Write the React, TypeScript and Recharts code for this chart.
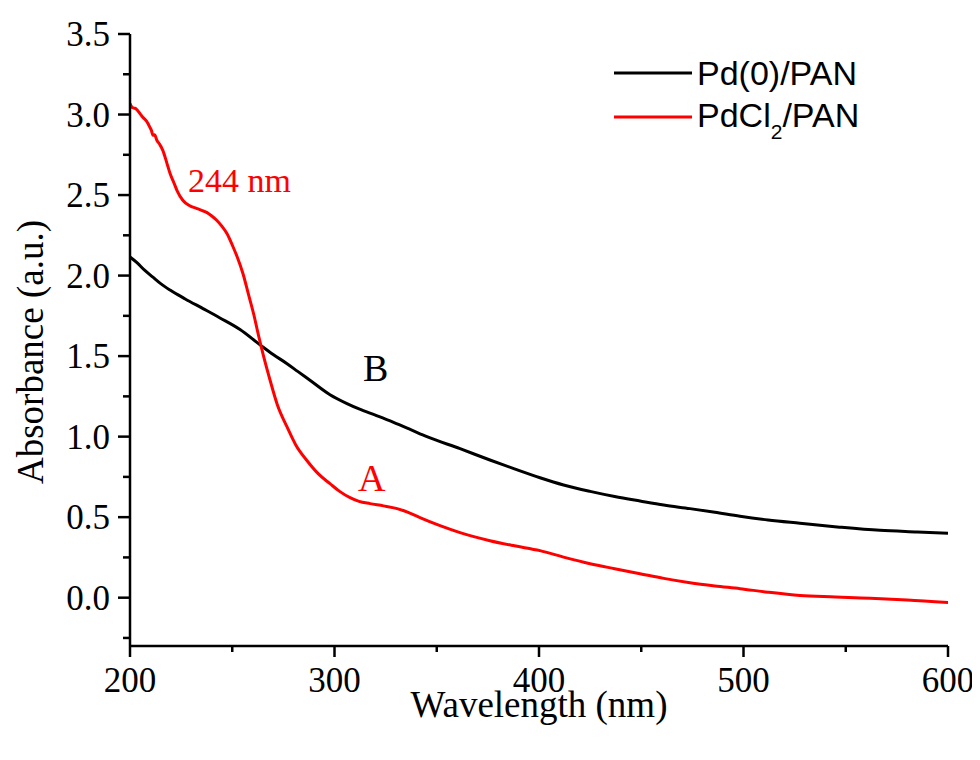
import React from 'react';
import { LineChart, Line, XAxis, YAxis, ReferenceDot, Label, Legend } from 'recharts';

// PdCl2/PAN (curve A) – wavelength (nm), absorbance
const pdcl2Wavelength = [
  200, 201, 202, 203, 204.9, 206.4, 208, 209.8, 210.5, 211.2, 212, 213.2, 214.5, 216.1, 218, 219.6,
  221.5, 223, 225.9, 229, 232.8, 235, 237.7, 240, 242.5, 245, 247.4, 250, 252.3, 255.3, 258, 260.5,
  263, 265.5, 268.5, 272, 276.8, 281, 286.6, 292, 297.8, 302.5, 307.6, 312, 317.4, 324, 330.6, 336,
  341.8, 351.6, 361.4, 376, 388, 400.5, 412, 425, 437, 449.4, 461, 473.8, 486, 498.3, 512, 527.6,
  545, 562, 580, 600,
];
const pdcl2Absorbance = [
  3.068, 3.045, 3.04, 3.035, 3.006, 2.981, 2.96, 2.919, 2.9, 2.872, 2.874, 2.839, 2.815, 2.776, 2.7, 2.634,
  2.575, 2.528, 2.466, 2.435, 2.416, 2.405, 2.391, 2.37, 2.342, 2.305, 2.261, 2.19, 2.12, 2.01, 1.88, 1.76,
  1.62, 1.49, 1.35, 1.2, 1.06, 0.95, 0.85, 0.77, 0.708, 0.66, 0.621, 0.598, 0.584, 0.57, 0.553, 0.53,
  0.497, 0.447, 0.404, 0.354, 0.322, 0.292, 0.252, 0.211, 0.18, 0.149, 0.12, 0.093, 0.073, 0.056, 0.034, 0.014,
  0.005, -0.004, -0.014, -0.03,
];

// Pd(0)/PAN (curve B)
const pd0Wavelength = [
  200, 203.4, 207, 211.2, 215, 219.6, 227, 235.7, 244, 253.8, 263.6, 270, 276.8, 282, 288, 297.8,
  306.1, 312, 320, 328.6, 337, 345.2, 361.4, 376, 388, 400.5, 412, 425, 437, 449.4, 461, 473.8,
  486, 498.3, 512, 527.6, 547, 566.7, 585, 600,
];
const pd0Absorbance = [
  2.115, 2.08, 2.035, 1.99, 1.95, 1.91, 1.855, 1.795, 1.737, 1.665, 1.57, 1.51, 1.453, 1.405, 1.35, 1.26,
  1.205, 1.172, 1.133, 1.09, 1.045, 1.0, 0.925, 0.855, 0.8, 0.745, 0.7, 0.66, 0.628, 0.6, 0.575, 0.553,
  0.53, 0.505, 0.482, 0.462, 0.438, 0.418, 0.408, 0.4,
];

const seriesNames = ['Pd(0)/PAN', 'PdCl2/PAN'];
const seriesColors = ['#000000', '#ff0000'];

const xTicks = [200, 250, 300, 350, 400, 450, 500, 550, 600];
const yTicks = [-0.25, 0, 0.25, 0.5, 0.75, 1, 1.25, 1.5, 1.75, 2, 2.25, 2.5, 2.75, 3, 3.25, 3.5];
const frameTicks = [0, 1, 2, 3, 4, 5, 6, 7, 8, 9, 10];

const annotations = [
  { text: '244 nm', x: 228.4, y: 2.516, series: 1 },
  { text: 'B', x: 313.9, y: 1.348, series: 0 },
  { text: 'A', x: 311.5, y: 0.665, series: 1 },
];

const pd0Data = pd0Wavelength.map((x, i) => ({ x, y: pd0Absorbance[i] }));
const pdcl2Data = pdcl2Wavelength.map((x, i) => ({ x, y: pdcl2Absorbance[i] }));

const SERIF = '"Liberation Serif", "Times New Roman", serif';
const SANS = '"Liberation Sans", Arial, sans-serif';

const XTick = (props: any) => {
  const { x, y, payload } = props;
  const major = payload.value % 100 === 0;
  return (
    <g>
      <line x1={x} x2={x} y1={y} y2={y + (major ? 11 : 6)} stroke="#000" strokeWidth={2.5} />
      {major && (
        <text x={x} y={y + 46} textAnchor="middle" fontFamily={SERIF} fontSize={35} fill="#000">
          {payload.value}
        </text>
      )}
    </g>
  );
};

const YTick = (props: any) => {
  const { x, y, payload } = props;
  const v = payload.value;
  const major = Math.abs(Math.round(v * 2) - v * 2) < 1e-6;
  return (
    <g>
      <line x1={x} x2={x - (major ? 12 : 7)} y1={y} y2={y} stroke="#000" strokeWidth={2.5} />
      {major && (
        <text x={x - 20} y={y + 12} textAnchor="end" fontFamily={SERIF} fontSize={35} fill="#000">
          {v.toFixed(1)}
        </text>
      )}
    </g>
  );
};

const TopTick = (props: any) => (
  <line x1={props.x} x2={props.x} y1={props.y} y2={props.y + 3} stroke="#000" strokeWidth={2} />
);
const RightTick = (props: any) => (
  <line x1={props.x} x2={props.x - 3} y1={props.y} y2={props.y} stroke="#000" strokeWidth={2} />
);

const renderName = (name: string) => {
  const m = name.match(/^(.*Cl)(\d)(.*)$/);
  if (!m) return name;
  return (
    <>
      {m[1]}
      <span style={{ fontSize: 21, position: 'relative', top: 12 }}>{m[2]}</span>
      {m[3]}
    </>
  );
};

const LegendBox = () => (
  <div style={{ fontFamily: SANS, fontSize: 34, color: '#000' }}>
    {seriesNames.map((name, i) => (
      <div key={name} style={{ display: 'flex', alignItems: 'center', height: 44, whiteSpace: 'nowrap' }}>
        <svg width={78} height={44} style={{ flex: 'none' }}>
          <line x1={0} x2={78} y1={22} y2={22} stroke={seriesColors[i]} strokeWidth={3} />
        </svg>
        <span style={{ marginLeft: 5, lineHeight: '44px' }}>{renderName(name)}</span>
      </div>
    ))}
  </div>
);

const annText = (text: string, color: string, size: number) => (props: any) => {
  const vb = props.viewBox || {};
  const cx = (vb.x ?? 0) + (vb.width ?? 0) / 2;
  const cy = (vb.y ?? 0) + (vb.height ?? 0) / 2;
  return (
    <text x={cx} y={cy} fontFamily={SERIF} fontSize={size} fill={color} textAnchor="start">
      {text}
    </text>
  );
};

export default function App() {
  return (
    <div style={{ width: 972, height: 744, position: 'relative', background: '#fff' }}>
      <LineChart width={972} height={744} margin={{ top: 26, right: 32, bottom: 0, left: 0 }}>
        <XAxis
          dataKey="x"
          type="number"
          domain={[200, 600]}
          ticks={xTicks}
          height={106}
          tickSize={0}
          tickMargin={0}
          tickLine={false}
          axisLine={{ stroke: '#000', strokeWidth: 2.5 }}
          tick={(p: any) => <XTick {...p} />}
          interval={0}
          allowDataOverflow
        >
          <Label
            value="Wavelength (nm)"
            content={(p: any) => (
              <text
                x={(p.viewBox?.x ?? 0) + (p.viewBox?.width ?? 0) / 2}
                y={(p.viewBox?.y ?? 0) + 71}
                textAnchor="middle"
                fontFamily={SERIF}
                fontSize={37}
                fill="#000"
              >
                Wavelength (nm)
              </text>
            )}
          />
        </XAxis>
        <XAxis
          xAxisId="t"
          orientation="top"
          type="number"
          domain={[0, 10]}
          ticks={frameTicks}
          height={0}
          tickSize={0}
          tickMargin={0}
          tickLine={false}
          axisLine={{ stroke: '#000', strokeWidth: 2.5 }}
          tick={(p: any) => <TopTick {...p} />}
          interval={0}
        />
        <YAxis
          type="number"
          domain={[-0.3, 3.5]}
          ticks={yTicks}
          width={122}
          tickSize={0}
          tickMargin={0}
          tickLine={false}
          axisLine={{ stroke: '#000', strokeWidth: 2.5 }}
          tick={(p: any) => <YTick {...p} />}
          interval={0}
          allowDataOverflow
        >
          <Label
            value="Absorbance (a.u.)"
            content={(p: any) => {
              const cy = (p.viewBox?.y ?? 0) + (p.viewBox?.height ?? 0) / 2 + 12;
              return (
                <text
                  x={35}
                  y={cy}
                  transform={`rotate(-90 35 ${cy})`}
                  textAnchor="middle"
                  fontFamily={SERIF}
                  fontSize={37}
                  fill="#000"
                >
                  Absorbance (a.u.)
                </text>
              );
            }}
          />
        </YAxis>
        <YAxis
          yAxisId="r"
          orientation="right"
          type="number"
          domain={[0, 10]}
          ticks={frameTicks}
          width={0}
          tickSize={0}
          tickMargin={0}
          tickLine={false}
          axisLine={{ stroke: '#000', strokeWidth: 2.5 }}
          tick={(p: any) => <RightTick {...p} />}
          interval={0}
        />
        <Legend
          verticalAlign="middle"
          align="center"
          layout="horizontal"
          content={() => <LegendBox />}
          wrapperStyle={{ position: 'absolute', left: 606, top: 43, width: 320, height: 90 }}
        />
        <Line
          data={pd0Data}
          dataKey="y"
          name={seriesNames[0]}
          type="monotone"
          stroke={seriesColors[0]}
          strokeWidth={3}
          dot={false}
          activeDot={false}
          isAnimationActive={false}
        />
        <Line
          data={pdcl2Data}
          dataKey="y"
          name={seriesNames[1]}
          type="monotone"
          stroke={seriesColors[1]}
          strokeWidth={3}
          dot={false}
          activeDot={false}
          isAnimationActive={false}
        />
        {annotations.map((a) => (
          <ReferenceDot key={a.text} x={a.x} y={a.y} r={0} fill="none" stroke="none">
            <Label content={annText(a.text, seriesColors[a.series], a.text.length > 1 ? 34 : 38)} />
          </ReferenceDot>
        ))}
      </LineChart>
    </div>
  );
}
